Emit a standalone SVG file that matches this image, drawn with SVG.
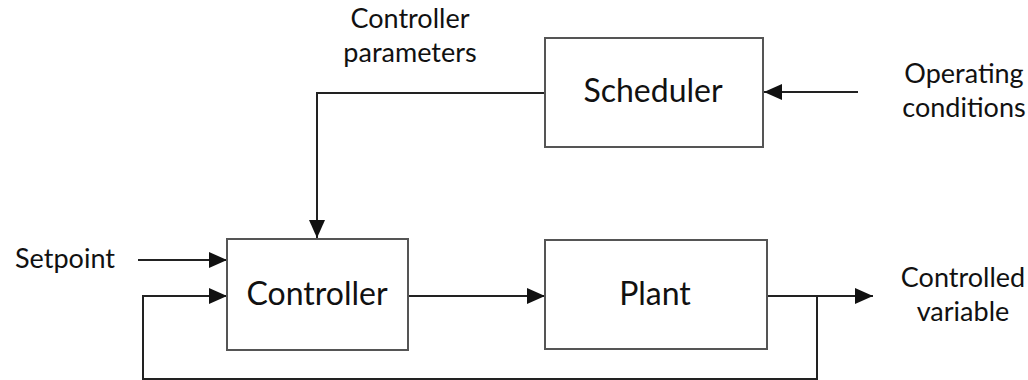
<svg xmlns="http://www.w3.org/2000/svg" width="1028" height="380" viewBox="0 0 1028 380">
  <style>
    .box { fill: #ffffff; stroke: #555555; stroke-width: 2; }
    .wire { fill: none; stroke: #222222; stroke-width: 2; }
    .title { font-family: Lato, "Open Sans", sans-serif; font-size: 32px; fill: #111111; text-anchor: middle; }
    .label { font-family: Lato, "Open Sans", sans-serif; font-size: 27px; fill: #111111; text-anchor: middle; }
  </style>
  <defs>
    <marker id="arrow" viewBox="0 0 18 16" refX="18" refY="8" markerWidth="18" markerHeight="16" markerUnits="userSpaceOnUse" orient="auto">
      <path d="M0,0 L18,8 L0,16 Z" fill="#111111"/>
    </marker>
  </defs>

  <!-- signal lines -->
  <g id="connectors">
    <path class="wire" d="M545,93 H317 V238" marker-end="url(#arrow)"/>
    <path class="wire" d="M858,92 H764" marker-end="url(#arrow)"/>
    <path class="wire" d="M138,260 H227" marker-end="url(#arrow)"/>
    <path class="wire" d="M408,296 H545" marker-end="url(#arrow)"/>
    <path class="wire" d="M767,296 H873" marker-end="url(#arrow)"/>
    <path class="wire" d="M817,296 V379 H143 V296 H227" marker-end="url(#arrow)"/>
  </g>

  <g id="scheduler">
    <rect class="box" x="545" y="38" width="218" height="109"/>
    <text class="title" x="653" y="102">Scheduler</text>
  </g>

  <g id="controller">
    <rect class="box" x="227" y="239" width="181" height="111"/>
    <text class="title" x="317" y="305">Controller</text>
  </g>

  <g id="plant">
    <rect class="box" x="545" y="240" width="222" height="109"/>
    <text class="title" x="655" y="305">Plant</text>
  </g>

  <g id="labels">
    <text class="label" x="410" y="28">Controller</text>
    <text class="label" x="410" y="62">parameters</text>
    <text class="label" x="964" y="83">Operating</text>
    <text class="label" x="964" y="117">conditions</text>
    <text class="label" x="65" y="268">Setpoint</text>
    <text class="label" x="963" y="287">Controlled</text>
    <text class="label" x="963" y="321">variable</text>
  </g>
</svg>
